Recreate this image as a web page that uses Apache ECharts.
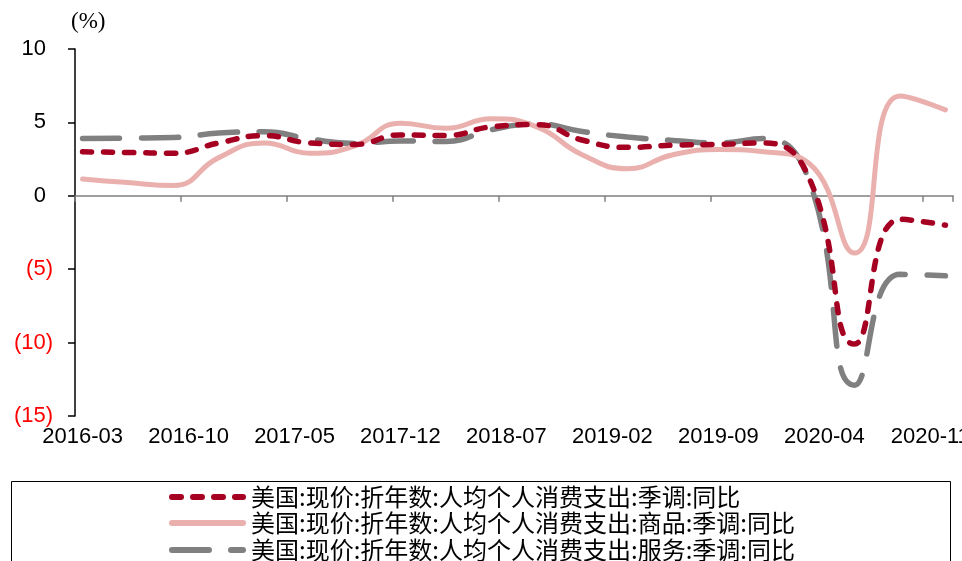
<!DOCTYPE html>
<html>
<head>
<meta charset="utf-8">
<title>美国人均个人消费支出同比</title>
<script src="https://cdn.jsdelivr.net/npm/echarts@6/dist/echarts.min.js"></script>
<style>
  html, body { margin: 0; padding: 0; background: #fff; }
  #chart { width: 962px; height: 561px; }
</style>
</head>
<body>
<div id="chart"></div>
<script>
// Monthly category axis (labels every 7 months)
const months = [
  '2016-03','2016-04','2016-05','2016-06','2016-07','2016-08','2016-09','2016-10','2016-11','2016-12',
  '2017-01','2017-02','2017-03','2017-04','2017-05','2017-06','2017-07','2017-08','2017-09','2017-10','2017-11','2017-12',
  '2018-01','2018-02','2018-03','2018-04','2018-05','2018-06','2018-07','2018-08','2018-09','2018-10','2018-11','2018-12',
  '2019-01','2019-02','2019-03','2019-04','2019-05','2019-06','2019-07','2019-08','2019-09','2019-10','2019-11','2019-12',
  '2020-01','2020-02','2020-03','2020-04','2020-05','2020-06','2020-07','2020-08','2020-09','2020-10','2020-11','2020-12'
];

// Quarterly observations
const quarters = [
  '2016-03','2016-06','2016-09','2016-12',
  '2017-03','2017-06','2017-09','2017-12',
  '2018-03','2018-06','2018-09','2018-12',
  '2019-03','2019-06','2019-09','2019-12',
  '2020-03','2020-06','2020-09','2020-12'
];

// 人均个人消费支出 同比 (%)
const totalYoY = [3.0, 2.95, 2.9, 3.6, 4.1, 3.6, 3.5, 4.15, 4.1, 4.7, 4.85, 3.8, 3.3, 3.45, 3.5, 3.6, 1.2, -10.1, -1.6, -2.0];
// 商品
const goodsYoY = [1.15, 0.9, 0.7, 2.6, 3.6, 2.9, 3.4, 4.95, 4.6, 5.25, 4.7, 2.8, 1.85, 2.8, 3.15, 3.0, 2.2, -3.9, 6.8, 5.85];
// 服务
const servicesYoY = [3.9, 3.93, 3.97, 4.27, 4.36, 3.87, 3.57, 3.73, 3.7, 4.5, 4.89, 4.38, 4.0, 3.77, 3.6, 3.9, 1.0, -12.9, -5.35, -5.45];

const seriesNames = [
  '美国:现价:折年数:人均个人消费支出:季调:同比',
  '美国:现价:折年数:人均个人消费支出:商品:季调:同比',
  '美国:现价:折年数:人均个人消费支出:服务:季调:同比'
];

const yTicks = { min: -15, max: 10, step: 5 };

const pair = vals => quarters.map((q, i) => [q, vals[i]]);

const numFont = "'Liberation Sans', Arial, sans-serif";
const cjkFont = "'Noto Sans CJK SC', 'Noto Sans', sans-serif";

const styles = [
  { color: '#A50021', width: 5.5, type: [9, 12] },
  { color: '#EAB0AE', width: 5, type: 'solid' },
  { color: '#808080', width: 5.5, type: [37, 22] }
];

// one legend row per series, stacked inside the framed box
const legendTops = [485, 511, 538];
const legends = seriesNames.map((name, i) => ({
  orient: 'horizontal',
  left: 169,
  top: legendTops[i],
  itemWidth: 71,
  itemHeight: 20,
  itemGap: 0,
  padding: 0,
  selectedMode: false,
  textStyle: { fontFamily: cjkFont, fontSize: 24, lineHeight: 22, color: '#000', padding: [0, 0, 0, 3] },
  itemStyle: { opacity: 0 },
  lineStyle: {
    color: styles[i].color,
    width: 6,
    type: styles[i].type,
    cap: 'round',
    opacity: 1
  },
  data: [name]
}));

const labelText = { fontSize: 22, fontFamily: numFont };

const chart = echarts.init(document.getElementById('chart'), null, { renderer: 'canvas' });

chart.setOption({
  backgroundColor: '#ffffff',
  animation: false,
  grid: { left: 75, right: 9, top: 49, bottom: 145, containLabel: false, outerBoundsMode: 'none' },
  xAxis: [
    {
      type: 'category',
      data: months,
      boundaryGap: true,
      position: 'bottom',
      axisLine: { show: false, onZero: false },
      axisTick: { show: false },
      axisLabel: Object.assign({
        interval: 6,
        margin: 10,
        color: '#000',
        hideOverlap: false
      }, labelText),
      splitLine: { show: false }
    },
    {
      type: 'category',
      data: months,
      boundaryGap: true,
      position: 'bottom',
      axisLine: { show: true, onZero: true, lineStyle: { color: '#808080', width: 1.5 } },
      axisTick: { show: true, interval: 6, length: 6, lineStyle: { color: '#808080', width: 1.5 } },
      axisLabel: { show: false },
      splitLine: { show: false }
    }
  ],
  yAxis: {
    type: 'value',
    min: yTicks.min,
    max: yTicks.max,
    interval: yTicks.step,
    name: '(%)',
    nameLocation: 'end',
    nameGap: 16,
    nameTextStyle: {
      fontFamily: "'Liberation Serif', 'DejaVu Serif', serif",
      fontSize: 23,
      color: '#000',
      align: 'left',
      verticalAlign: 'bottom',
      padding: [0, 0, 0, -4]
    },
    axisLine: { show: true, lineStyle: { color: '#000', width: 1.5 } },
    axisTick: { show: true, length: 7, lineStyle: { color: '#000', width: 1.5 } },
    splitLine: { show: false },
    axisLabel: Object.assign({
      margin: 22,
      // accounting style: negatives in red parentheses, positives padded by a bracket's width
      formatter: v => (v < 0 ? '{neg|(' + (-v) + ')}' : '{pos|' + v + '}'),
      rich: {
        neg: Object.assign({ color: '#ff0000' }, labelText),
        pos: Object.assign({ color: '#000000', padding: [0, 7, 0, 0] }, labelText)
      }
    }, labelText)
  },
  legend: legends,
  graphic: [
    {
      type: 'rect',
      silent: true,
      shape: { x: 11.5, y: 481.5, width: 939, height: 100 },
      style: { fill: 'none', stroke: '#000', lineWidth: 1 }
    }
  ],
  series: [
    {
      name: seriesNames[2],
      type: 'line',
      data: pair(servicesYoY),
      smooth: 0.5,
      symbol: 'none',
      z: 2,
      color: styles[2].color,
      lineStyle: { color: styles[2].color, width: styles[2].width, type: styles[2].type, cap: 'round' }
    },
    {
      name: seriesNames[1],
      type: 'line',
      data: pair(goodsYoY),
      smooth: 0.5,
      symbol: 'none',
      z: 3,
      color: styles[1].color,
      lineStyle: { color: styles[1].color, width: styles[1].width, type: styles[1].type, cap: 'round' }
    },
    {
      name: seriesNames[0],
      type: 'line',
      data: pair(totalYoY),
      smooth: 0.5,
      symbol: 'none',
      z: 4,
      color: styles[0].color,
      lineStyle: { color: styles[0].color, width: styles[0].width, type: styles[0].type, cap: 'round' }
    }
  ]
});
</script>
</body>
</html>
